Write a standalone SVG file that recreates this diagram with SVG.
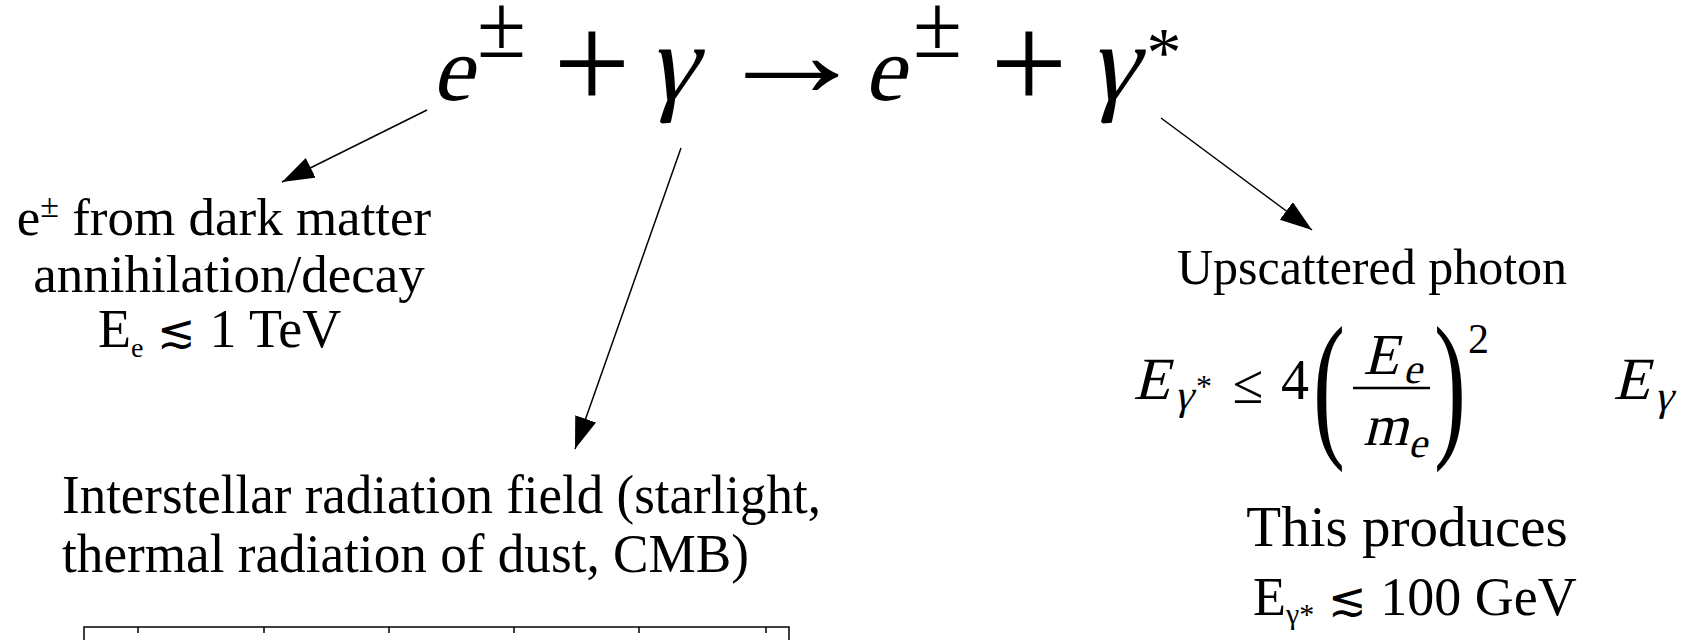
<svg xmlns="http://www.w3.org/2000/svg" width="1701" height="640" viewBox="0 0 1701 640">
<style>
.t{font-family:"Liberation Serif","DejaVu Serif",serif;fill:#000}
.r{font-family:"Liberation Serif","DejaVu Serif",serif;fill:#000}
.s{font-family:"DejaVu Sans",sans-serif;font-weight:200;fill:#000}
.c{stroke:#000;stroke-width:1.5;fill:none}
</style>
<defs>
<marker id="ah" markerUnits="userSpaceOnUse" markerWidth="34" markerHeight="24" refX="32" refY="11" orient="auto">
<path d="M0,0 L32,11 L0,22 Z" fill="#000"/>
</marker>
</defs>
<rect width="1701" height="640" fill="#fff"/>
<g id="equation">
<g transform="translate(452 100) skewX(-14)"><text class="r" font-size="92" text-anchor="middle">e</text></g>
<text class="r" x="477" y="57" font-size="90" textLength="49" lengthAdjust="spacingAndGlyphs">±</text>
<text class="r" x="592" y="109" font-size="137" text-anchor="middle">+</text>
<g transform="translate(671 100) skewX(-14)"><text class="r" font-size="110" text-anchor="middle">γ</text></g>
<text class="r" x="713" y="96" font-size="125" textLength="157" lengthAdjust="spacingAndGlyphs">→</text>
<g transform="translate(884 100) skewX(-14)"><text class="r" font-size="92" text-anchor="middle">e</text></g>
<text class="r" x="913" y="57" font-size="90" textLength="49" lengthAdjust="spacingAndGlyphs">±</text>
<text class="r" x="1029" y="109" font-size="137" text-anchor="middle">+</text>
<g transform="translate(1112 100) skewX(-14)"><text class="r" font-size="110" text-anchor="middle">γ</text></g>
<text class="r" x="1164" y="76" font-size="70" text-anchor="middle">*</text>
</g>
<g id="connectors">
<line class="c" x1="427" y1="110" x2="282" y2="182" marker-end="url(#ah)"/>
<line class="c" x1="681" y1="148" x2="575" y2="449" marker-end="url(#ah)"/>
<line class="c" x1="1161" y1="118" x2="1312" y2="230" marker-end="url(#ah)"/>
</g>
<g id="dm-label">
<text class="t" x="224" y="235" font-size="53" text-anchor="middle">e<tspan font-size="34" dy="-18">±</tspan><tspan dy="18"> from dark matter</tspan></text>
<text class="t" x="229" y="292" font-size="53" text-anchor="middle">annihilation/decay</text>
<text class="t" x="98" y="347" font-size="54">E<tspan font-size="28" dy="10">e</tspan><tspan dy="-10"> </tspan><tspan class="s" font-size="46">≲</tspan><tspan> 1 TeV</tspan></text>
</g>
<g id="isrf-label">
<text class="t" x="62" y="513" font-size="55" textLength="759" lengthAdjust="spacingAndGlyphs">Interstellar radiation field (starlight,</text>
<text class="t" x="62" y="572" font-size="55" textLength="687" lengthAdjust="spacingAndGlyphs">thermal radiation of dust, CMB)</text>
</g>
<g id="upscattered">
<text class="t" x="1372" y="284" font-size="50" text-anchor="middle">Upscattered photon</text>
<g transform="translate(1133 399) skewX(-14)"><text class="r" font-size="60">E</text></g>
<g transform="translate(1174 409) skewX(-14)"><text class="r" font-size="42">γ</text></g>
<text class="r" x="1196" y="397" font-size="32">*</text>
<text class="r" x="1248" y="403" font-size="56" text-anchor="middle">≤</text>
<text class="r" x="1281" y="399" font-size="56">4</text>
<text class="r" x="1313" y="438" font-size="160" transform="translate(1313 0) scale(0.6 1) translate(-1313 0)">(</text>
<g transform="translate(1363 374) skewX(-14)"><text class="r" font-size="58">E</text></g>
<g transform="translate(1403 383) skewX(-14)"><text class="r" font-size="42">e</text></g>
<line x1="1353" y1="388" x2="1430" y2="388" stroke="#000" stroke-width="2.5"/>
<g transform="translate(1363 445) skewX(-14)"><text class="r" font-size="58">m</text></g>
<g transform="translate(1408 457) skewX(-14)"><text class="r" font-size="42">e</text></g>
<text class="r" x="1434" y="438" font-size="160" transform="translate(1434 0) scale(0.6 1) translate(-1434 0)">)</text>
<text class="r" x="1468" y="353" font-size="42">2</text>
<g transform="translate(1613 399) skewX(-14)"><text class="r" font-size="60">E</text></g>
<g transform="translate(1654 410) skewX(-14)"><text class="r" font-size="42">γ</text></g>
</g>
<g id="produces">
<text class="t" x="1407" y="546" font-size="57" text-anchor="middle">This produces</text>
<text class="t" x="1253" y="615" font-size="54">E<tspan font-size="30" dy="9">γ*</tspan><tspan dy="-9"> </tspan><tspan class="s" font-size="46">≲</tspan><tspan> 100 GeV</tspan></text>
</g>
<g id="axis">
<polyline class="c" points="84,640 84,627 789,627 789,640"/>
<path class="c" d="M138,627v6M264,627v6M389,627v6M514,627v6M639,627v6M766,627v6"/>
</g>
</svg>
